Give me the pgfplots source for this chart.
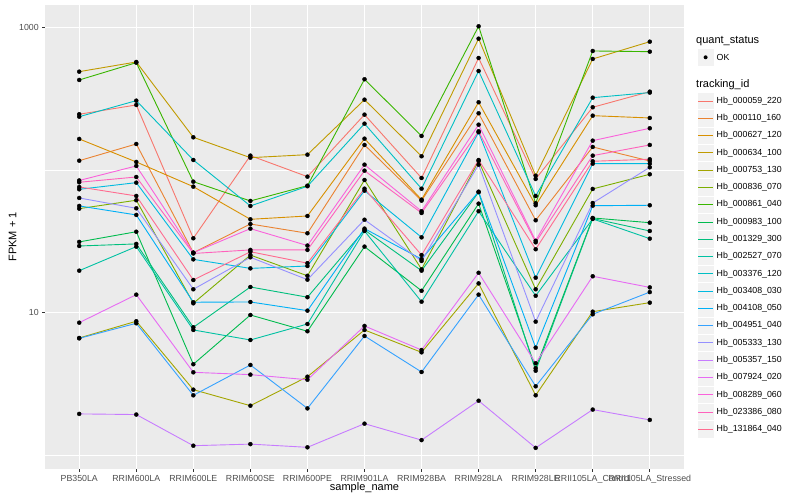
\documentclass[border=0pt]{standalone}
\usepackage{pgfplots}
\pgfplotsset{compat=1.18}
\usepackage{pgfplotstable}
\usepackage{fontspec}
\setmainfont{Liberation Sans}

\definecolor{c1}{HTML}{F8766D}
\definecolor{c2}{HTML}{EA8331}
\definecolor{c3}{HTML}{D89000}
\definecolor{c4}{HTML}{C09B00}
\definecolor{c5}{HTML}{A3A500}
\definecolor{c6}{HTML}{7CAE00}
\definecolor{c7}{HTML}{39B600}
\definecolor{c8}{HTML}{00BB4E}
\definecolor{c9}{HTML}{00BF7D}
\definecolor{c10}{HTML}{00C1A3}
\definecolor{c11}{HTML}{00BFC4}
\definecolor{c12}{HTML}{00BAE0}
\definecolor{c13}{HTML}{00B0F6}
\definecolor{c14}{HTML}{35A2FF}
\definecolor{c15}{HTML}{9590FF}
\definecolor{c16}{HTML}{C77CFF}
\definecolor{c17}{HTML}{E76BF3}
\definecolor{c18}{HTML}{FA62DB}
\definecolor{c19}{HTML}{FF62BC}
\definecolor{c20}{HTML}{FF6C90}
\definecolor{panelbg}{HTML}{EBEBEB}
\definecolor{keybg}{HTML}{F2F2F2}
\definecolor{ticktext}{HTML}{4D4D4D}
\definecolor{tickgrey}{HTML}{333333}

% FPKM + 1, one row per sample, one column per tracking_id
\pgfplotstableread{
x  s1    s2    s3    s4    s5    s6    s7     s8    s9    s10   s11   s12   s13   s14   s15   s16   s17   s18   s19   s20
1  246.6 116.4 165.4 491.0 6.62  53.6  429.3  31.3  29.3  19.66 237.1 73.3  56.0  6.58  63.7  1.94  8.48  84.5  82.1  76.1
2  286.6 152.5 114.0 574.2 8.68  61.4  567.8  36.9  30.3  29.0  307.3 81.6  48.4  8.40  53.9  1.92  13.34 106.9 89.4  65.8
3  33.2  26.3  76.5  169.9 2.87  11.6  82.9   4.33  7.87  7.54  117.7 23.6  11.8  2.62  14.55 1.16  3.80  26.3  25.96 16.9
4  126.3 41.8  45.1  122.2 2.215 25.3  60.7   9.60  15.1  6.41  55.97 20.4  11.85 4.28  24.4  1.19  3.66  38.8  27.5  26.7
5  89.9  36.0  47.6  128.3 3.54  18.1  77.7   7.38  12.8  8.30  77.0  21.2  10.3  2.12  17.0  1.13  3.37  29.5  27.5  22.2
6  245.0 150.1 166.1 312.2 7.54  85.2  434.2  29.0  37.96 37.35 211.7 71.7  38.8  6.84  44.8  1.656 8.04  109.1 99.0  74.0
7  88.0  61.0  62.0  125.0 5.25  20.1  173.6  14.2  19.66 11.9  74.0  33.7  23.7  3.82  23.0  1.27  5.45  51.4  49.96 25.3
8  612.6 250.5 299.4 837.0 16.0  115.8 1022.8 58.1  69.9  51.4  496.5 184.3 70.5  13.34 109.1 2.40  19.0  208.3 187.3 117.7
9  86.6  44.4  56.6  91.3  2.62  14.55 58.5   4.06  3.90  13.1  65.8  17.55 5.66  3.03  8.62  1.12  4.40  31.9  31.1  27.8
10 276.1 145.3 241.0 602.8 10.13 73.7  686.1  46.1  45.7  45.4  322.4 110.9 56.2  9.71  58.7  2.08  17.96 160.9 126.3 115.3
11 355.3 115.8 232.2 797.2 11.72 93.4  678.4  42.7  37.35 33.0  350.0 110.9 56.6  13.9  104.6 1.76  15.0  196.6 150.1 119.1
}\fpkm

\begin{document}
\begin{tikzpicture}[x=1pt,y=1pt]
\useasboundingbox (0,0) rectangle (800,500);
\begin{axis}[
    at={(45pt,31pt)}, anchor=south west,
    scale only axis, width=639pt, height=464pt,
    xmin=0.4, xmax=11.6,
    ymode=log, ymin=0.796, ymax=1443,
    xtick={1,...,11},
    xticklabels={PB350LA,RRIM600LA,RRIM600LE,RRIM600SE,RRIM600PE,RRIM901LA,RRIM928BA,RRIM928LA,RRIM928LE,RRII105LA\_Control,RRII105LA\_Stressed},
    ytick={10,1000}, yticklabels={10,1000},
    minor ytick={1,100},
    grid=both,
    major grid style={white, line width=1.1pt},
    minor grid style={white, line width=0.55pt},
    axis background/.style={fill=panelbg},
    axis line style={draw=none},
    tick align=outside, tick pos=left,
    major tick length=2.75pt, minor tick length=0pt,
    tick style={color=tickgrey, line width=1.1pt},
    tick label style={font=\fontsize{8.8}{10}\selectfont, text=ticktext},
]
\pgfplotsinvokeforeach{1,...,20}{
  \addplot[color=c#1, line width=0.9pt] table[x=x, y=s#1] {\fpkm};
}
\pgfplotsinvokeforeach{1,...,20}{
  \addplot[only marks, mark=*, mark size=2pt, black] table[x=x, y=s#1] {\fpkm};
}
\end{axis}

% axis titles
\node[font=\fontsize{11}{13}\selectfont] at (364.5,12) {sample\_name};
\node[font=\fontsize{11}{13}\selectfont, rotate=90] at (12.5,263) {FPKM + 1};

% legend: quant_status
\node[anchor=west, inner sep=0pt, font=\fontsize{11}{13}\selectfont] at (696,459.3) {quant\_status};
\fill[keybg, draw=white, line width=0.6pt] (697,434.1) rectangle (714.3,451.4);
\fill[black] (705.6,442.7) circle (2pt);
\node[anchor=west, inner sep=0pt, font=\fontsize{8.8}{10}\selectfont] at (716.5,442.7) {OK};

% legend: tracking_id
\node[anchor=west, inner sep=0pt, font=\fontsize{11}{13}\selectfont] at (696,415.7) {tracking\_id};
\foreach \n [count=\i] in {000059\_220,000110\_160,000627\_120,000634\_100,000753\_130,
    000836\_070,000861\_040,000983\_100,001329\_300,002527\_070,003376\_120,003408\_030,
    004108\_050,004951\_040,005333\_130,005357\_150,007924\_020,008289\_060,023386\_080,131864\_040}{
  \pgfmathsetmacro\yc{399-(\i-1)*17.28}
  \pgfmathsetmacro\ya{\yc-8.64}
  \pgfmathsetmacro\yb{\yc+8.64}
  \fill[keybg, draw=white, line width=0.6pt] (697,\ya) rectangle (714.3,\yb);
  \draw[color=c\i, line width=0.9pt] (698.3,\yc) -- (713,\yc);
  \node[anchor=west, inner sep=0pt, font=\fontsize{8.8}{10}\selectfont] at (716.5,\yc) {Hb\_\n};
}
\end{tikzpicture}
\end{document}
